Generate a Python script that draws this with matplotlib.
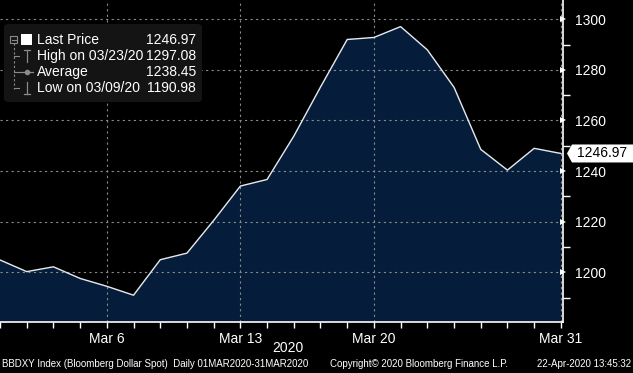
import matplotlib
matplotlib.use("Agg")
import matplotlib.pyplot as plt
from matplotlib.patches import FancyBboxPatch, Polygon
import numpy as np

plt.rcParams['font.family'] = ['Liberation Sans', 'DejaVu Sans']

# BBDXY daily closes, March 2020 (trading days)
dates = ['03/02', '03/03', '03/04', '03/05', '03/06', '03/09', '03/10', '03/11',
         '03/12', '03/13', '03/16', '03/17', '03/18', '03/19', '03/20', '03/23',
         '03/24', '03/25', '03/26', '03/27', '03/30', '03/31']
prices = [1204.9, 1200.3, 1202.2, 1197.6, 1194.5, 1190.98, 1205.0, 1207.6,
          1220.5, 1234.1, 1236.7, 1253.8, 1273.2, 1292.0, 1292.8, 1297.08,
          1287.9, 1273.1, 1248.6, 1240.4, 1249.0, 1246.97]
tick_labels = ['Mar 6', 'Mar 13', 'Mar 20', 'Mar 31']
tick_idx = [4, 9, 14, 21]
y_ticks = [1200, 1220, 1240, 1260, 1280, 1300]
legend_rows = [('Last Price', '1246.97'), ('High on 03/23/20', '1297.08'),
               ('Average', '1238.45'), ('Low on 03/09/20', '1190.98')]

W, H = 633, 373
FS = 10
fig = plt.figure(figsize=(W / 100, H / 100), dpi=100, facecolor='black')
ax = fig.add_axes([0, 51 / H, 563 / W, 322 / H], facecolor='black')

x = np.arange(len(prices))
ax.fill_between(x, prices, 1100, color='#051d3a', zorder=1)
ax.plot(x, prices, color='#e8e8e8', lw=1.0, zorder=3)

ax.set_xlim(0, 21.08)
ax.set_ylim(1180.4, 1307.6)

# grid
for xi in tick_idx:
    ax.axvline(xi, color='#8a8a8a', lw=0.8, ls=(0, (2, 3)), zorder=2)
for yv in y_ticks:
    ax.axhline(yv, color='#8a8a8a', lw=0.8, ls=(0, (2, 3)), zorder=2)

for s in ['top', 'left']:
    ax.spines[s].set_visible(False)
for s in ['bottom', 'right']:
    ax.spines[s].set_color('white')
    ax.spines[s].set_linewidth(1.2)

ax.set_xticks(tick_idx)
ax.set_xticklabels(tick_labels)
ax.set_xticks(x, minor=True)
ax.tick_params(axis='x', which='both', colors='white', length=4, width=1,
               direction='out', labelsize=FS, pad=3)

ax.yaxis.tick_right()
ax.set_yticks(y_ticks)
ax.set_yticks(np.arange(1190, 1310, 10), minor=True)
ax.tick_params(axis='y', which='minor', colors='white', length=5, width=1)
ax.tick_params(axis='y', which='major', colors='white', length=0,
               labelsize=FS, pad=9)
for yv in y_ticks:
    ax.plot(1.0, yv, marker='>', color='white', ms=5, mew=0,
            transform=ax.get_yaxis_transform(), clip_on=False, zorder=5)

# last price tag
py = ax.transData.transform((0, prices[-1]))[1] / H
tag = Polygon([(567 / W, py), (572 / W, py + 9 / H), (633 / W, py + 9 / H),
               (633 / W, py - 9 / H), (572 / W, py - 9 / H)],
              closed=True, transform=fig.transFigure, facecolor='white',
              edgecolor='none')
fig.patches.append(tag)
fig.text(602 / W, py, '%.2f' % prices[-1], color='black', fontsize=FS,
         ha='center', va='center')

# legend box
box = FancyBboxPatch((4 / W, 1 - 102 / H), 198 / W, 78 / H,
                     boxstyle='round,pad=0,rounding_size=0.008',
                     transform=fig.transFigure, facecolor='#141414',
                     edgecolor='none')
fig.patches.append(box)
rows_y = [40, 56, 72, 88]
for (name, val), ry in zip(legend_rows, rows_y):
    fig.text(37 / W, 1 - ry / H, name, color='white', fontsize=FS, va='center')
    fig.text(196 / W, 1 - ry / H, val, color='white', fontsize=FS,
             va='center', ha='right')
# tree lines and symbols
gray = '#8a8a8a'
fig.add_artist(plt.Line2D([14 / W, 14 / W], [1 - 43 / H, 1 - 89 / H],
                          color=gray, lw=0.8, ls=(0, (2, 2))))
for ry in [56, 72, 88]:
    fig.add_artist(plt.Line2D([14 / W, 19 / W], [1 - ry / H, 1 - ry / H],
                              color=gray, lw=0.8))
fig.patches.append(FancyBboxPatch((10 / W, 1 - 43 / H), 7 / W, 7 / H,
                                  boxstyle='square,pad=0', facecolor='none',
                                  edgecolor=gray, lw=0.8,
                                  transform=fig.transFigure))
fig.add_artist(plt.Line2D([11.5 / W, 15.5 / W], [1 - 39.5 / H, 1 - 39.5 / H],
                          color=gray, lw=0.8))
fig.patches.append(FancyBboxPatch((21 / W, 1 - 45 / H), 11 / W, 11 / H,
                                  boxstyle='square,pad=0', facecolor='white',
                                  edgecolor='none', transform=fig.transFigure))
# high symbol
fig.add_artist(plt.Line2D([27 / W, 27 / W], [1 - 50 / H, 1 - 62 / H], color=gray, lw=0.9))
fig.add_artist(plt.Line2D([24 / W, 30 / W], [1 - 50 / H, 1 - 50 / H], color=gray, lw=0.9))
# average symbol
fig.add_artist(plt.Line2D([20 / W, 33 / W], [1 - 72 / H, 1 - 72 / H], color=gray, lw=0.9))
fig.add_artist(plt.Line2D([26.5 / W], [1 - 72 / H], color=gray, marker='o', ms=3, lw=0))
# low symbol
fig.add_artist(plt.Line2D([27 / W, 27 / W], [1 - 82 / H, 1 - 94 / H], color=gray, lw=0.9))
fig.add_artist(plt.Line2D([24 / W, 30 / W], [1 - 94 / H, 1 - 94 / H], color=gray, lw=0.9))

# bottom texts
fig.text(288 / W, 1 - 348 / H, '2020', color='white', fontsize=FS,
         ha='center', va='center')
fig.text(2 / W, 1 - 364 / H,
         'BBDXY Index (Bloomberg Dollar Spot)  Daily 01MAR2020-31MAR2020',
         color='white', fontsize=7, va='center')
fig.text(330 / W, 1 - 364 / H, 'Copyright\u00a9 2020 Bloomberg Finance L.P.',
         color='white', fontsize=7, va='center')
fig.text(631 / W, 1 - 364 / H, '22-Apr-2020 13:45:32', color='white',
         fontsize=7, va='center', ha='right')

fig.savefig('out.png', dpi=100, facecolor='black')
